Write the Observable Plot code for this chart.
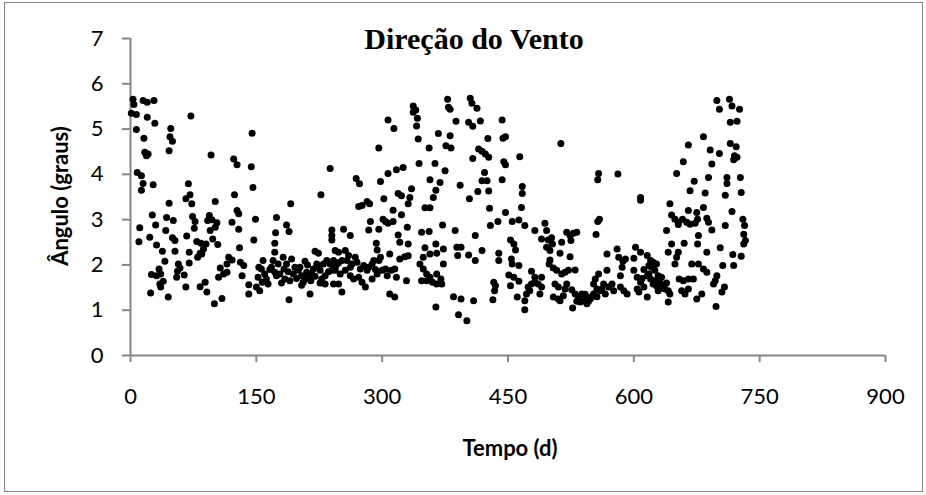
<!DOCTYPE html>
<html><head><meta charset="utf-8">
<script src="https://cdn.jsdelivr.net/npm/d3@7"></script>
<script src="https://cdn.jsdelivr.net/npm/@observablehq/plot@0.6"></script>
<style>
html,body{margin:0;padding:0;background:#fff;}
#wrap{position:relative;width:926px;height:495px;overflow:hidden;background:#fff;}
#frame{position:absolute;left:4px;top:2px;width:917px;height:488px;border:1px solid #868686;pointer-events:none;}
.t{position:absolute;white-space:nowrap;color:#000;}
#title{font-family:"Liberation Serif","Times New Roman",serif;font-weight:bold;font-size:30px;line-height:30px;left:274px;width:400px;text-align:center;top:24px;}
#xt{font-family:Lato,sans-serif;font-weight:bold;font-size:22px;line-height:22px;left:310px;width:400px;text-align:center;top:437px;}
#yt{font-family:Lato,sans-serif;font-weight:bold;font-size:22px;line-height:22px;left:-90px;width:300px;text-align:center;top:185px;transform:rotate(-90deg);transform-origin:150px 11px;}
#chart{position:absolute;left:0;top:0;}
</style>
</head><body>
<div id="wrap">
  <div id="chart"></div>
  <div id="frame"></div>
  <div class="t" id="title"></div>
  <div class="t" id="xt"></div>
  <div class="t" id="yt"></div>
</div>
<script>
const chartTitle = "Direção do Vento";
const xTitle = "Tempo (d)";
const yTitle = "Ângulo (graus)";
const xTicks = [0, 150, 300, 450, 600, 750, 900];
const yTicks = [0, 1, 2, 3, 4, 5, 6, 7];

const tempo1 = [3,4,1,7,15,20,28,20,29,72, 7,16,48,47,50,46,17,21,19,96, 8,13,15,13,27,69,71,66,73,101, 46,26,43,51,30,11,10,23,42,50, 53,31,38,67,70,53,74,77,76,94, 97,103,95,101,92,98,104,79,84,90, 87,83,80,85,41,34,36,31,25,39, 35,36,24,45,57,59,56,55,64,70, 66,83,89,91,100,109,107,105,111,115];
const angulo1 = [5.66,5.54,5.35,5.32,5.63,5.59,5.63,5.26,5.13,5.29, 4.99,4.80,5.01,4.83,4.73,4.52,4.49,4.45,4.41,4.43, 4.04,3.97,3.80,3.65,3.77,3.79,3.55,3.46,3.35,3.40, 3.36,3.10,3.05,2.98,2.88,2.82,2.51,2.61,2.76,2.60, 2.54,2.44,2.30,2.64,2.28,2.30,3.07,2.96,2.81,3.09, 3.00,2.93,2.76,2.83,2.98,2.57,2.45,2.52,2.48,2.46, 2.35,2.26,2.17,2.24,2.08,1.91,1.80,1.76,1.79,1.64, 1.58,1.51,1.38,1.29,2.02,1.93,1.86,1.73,1.78,2.04, 1.51,1.52,1.62,1.40,1.14,1.26,1.93,1.73,1.80,2.02];

const tempo2 = [145,123,127,144,146,124,127,129,121,129, 149,147,130,238,227,191,174,186,189,173, 172,240,240,220,224,117,121,115,131,135, 133,141,141,152,154,150,158,156,160,164, 162,172,170,168,172,176,174,182,186,183, 184,192,196,194,189,200,204,208,212,206, 216,210,208,214,218,222,226,228,232,234, 238,240,242,232,230, 153,157,166,178,180,188,198,202,211,215, 220,224,236,244,248,226,204,190];
const angulo2 = [4.91,4.34,4.21,4.17,3.71,3.55,3.20,3.13,2.94,2.79, 3.01,2.55,2.38,4.13,3.55,3.35,3.05,2.88,2.74,2.71, 2.48,2.77,2.55,2.30,2.26,2.17,2.11,1.84,2.06,1.99, 1.76,1.56,1.36,1.73,1.43,1.51,2.10,1.91,1.80,1.58, 1.69,2.28,2.10,1.95,1.84,2.02,1.76,2.17,2.02,1.91, 1.69,2.13,1.95,1.80,1.23,1.88,1.76,1.69,1.73,1.62, 1.80,1.84,2.08,1.36,1.91,2.02,1.88,1.69,1.58,2.10, 2.02,1.88,1.58,1.76,2.02, 1.95,1.62,1.90,1.80,1.60,1.85,1.70,1.95,2.00,1.65, 1.75,1.95,1.85,1.95,2.05,1.60,1.55,1.65];

const tempo3 = [337,340,337,342,307,314,341,343,367,296, 356,344,363,269,273,298,307,317,325,357, 319,323,335,333,331,364,361,302,282,285, 272,276,351,357,313,323,301,304,307,313, 286,284,296,330,347,356,319,321,331,293, 294,351,364,240,254,262,244,248,256,260, 268,242,246,252,258,264,270,274,278,282, 288,290,296,298,309,327,331,321,349,357, 365,244,250,256,262,266,272,276,280,288, 294,300,304,311,306,248,252,315,317,329, 309,315,345,349,353,357,360,347,353,365, 365,364, 284,292,262];
const angulo3 = [5.51,5.42,5.37,5.24,5.20,5.01,5.07,4.78,4.90,4.58, 4.58,4.24,4.24,3.91,3.79,3.84,4.02,4.10,4.15,3.88, 3.58,3.53,3.68,3.49,3.35,3.65,3.49,3.46,3.40,3.35, 3.29,3.31,3.26,3.26,3.21,3.11,3.01,2.96,2.92,2.96, 2.96,2.77,2.79,2.83,2.72,2.74,2.66,2.50,2.46,2.48, 2.33,2.38,2.46,2.65,2.79,2.65,2.32,2.28,2.32,2.21, 2.17,2.10,2.02,2.10,2.10,2.02,2.06,1.91,1.99,1.88, 2.02,2.10,2.10,2.17,2.24,2.18,2.20,2.13,2.17,2.24, 2.26,1.88,1.80,1.88,1.76,1.69,1.73,1.62,1.51,1.69, 1.80,1.88,1.91,1.88,1.76,1.58,1.40,1.91,1.73,1.65, 1.36,1.29,2.02,1.91,1.80,1.73,1.62,1.65,1.65,1.80, 1.58,1.07, 1.95,1.90,1.95];

const tempo4 = [378,379,381,405,407,413,388,403,408,417, 443,381,426,444,447,376,382,415,419,423, 427,408,445,447,464,375,422,419,425,443, 369,393,414,427,467,467,404,428,466,447, 372,387,411,429,438,455,463,470,482,490, 373,389,394,390,403,411,419,373,439,439, 453,457,459,454,455,463,451,457,478,482, 463,370,371,433,435,434,432,453,461,385, 394,409,391,401,474,478,482,486,490,472, 470,470,476];
const angulo4 = [5.66,5.48,5.44,5.68,5.57,5.46,5.17,5.15,5.06,5.18, 5.20,4.85,4.79,4.80,4.83,4.63,4.58,4.56,4.51,4.45, 4.38,4.35,4.28,4.21,4.39,4.08,4.04,3.86,3.86,3.88, 3.82,3.76,3.62,3.63,3.73,3.58,3.46,3.25,3.27,3.16, 2.88,2.76,2.65,2.87,2.96,2.96,2.99,2.87,2.76,2.57, 2.35,2.39,2.39,2.21,2.22,2.10,2.32,2.02,2.26,2.10, 2.55,2.46,2.33,2.13,2.02,1.99,1.78,1.73,1.86,1.73, 1.64,1.69,1.58,1.62,1.54,1.43,1.23,1.54,1.29,1.30, 1.25,1.21,0.90,0.77,1.51,1.58,1.62,1.58,1.51,1.36, 1.21,1.01,1.43];

const tempo5 = [513,558,557,581,608,608,559,557,555,494, 496,498,502,503,500,496,514,520,524,528, 532,525,512,524,500,499,504,508,514,518, 522,530,490,488,506,510,504,510,516,512, 518,520,526,530,534,538,544,548,552,527, 536,544,540,552,554,558,564,560,556,562, 566,568,570,574,576,584,584,588,592,568, 580,582,587,586,590,600,602,608,600,604, 608,604,612,616,616,618, 532,546,550,542,556,606,610,612];
const angulo5 = [4.68,4.02,3.88,4.01,3.49,3.43,3.01,2.96,2.67,2.92, 2.76,2.55,2.60,2.46,2.32,2.39,2.50,2.72,2.65,2.70, 2.72,2.54,2.26,2.18,2.11,2.02,1.93,1.88,1.80,1.84, 1.88,1.89,1.73,1.36,1.58,1.51,1.29,1.25,1.32,1.21, 1.47,1.58,1.45,1.36,1.29,1.36,1.29,1.25,1.36,1.05, 1.18,1.14,1.21,1.58,1.69,1.80,1.58,1.43,1.47,1.47, 1.36,1.88,1.51,1.58,1.43,1.51,1.76,1.43,1.36,2.24, 2.35,2.17,2.08,1.95,2.13,2.15,2.39,2.28,1.88,1.73, 1.62,1.47,1.51,1.29,1.76,1.99, 1.20,1.20,1.30,1.35,1.30,1.40,1.70,1.90];

const tempo6 = [699,702,714,717,726,715,723,683,665,715, 722,691,702,720,723,719,659,693,651,689, 711,727,672,711,667,685,709,728,643,683, 665,675,717,645,649,653,658,663,667,673, 676,687,689,653,639,693,709,730,732,731, 733,731,677,676,660,645,641,653,651,649, 687,703,718,728,706,719,669,677,683,687, 699,697,695,708,705,654,659,665,671,657, 661,665,641,675,681,698,616,620,623,627, 621,625,618,629,633,620,631,635,637,641, 623,629,643,627, 625,633,639];
const angulo6 = [5.63,5.44,5.66,5.51,5.44,5.15,5.17,4.83,4.65,4.68, 4.61,4.54,4.46,4.41,4.38,4.32,4.28,4.23,4.02,3.93, 3.93,3.93,3.85,3.80,3.64,3.59,3.54,3.60,3.35,3.27, 3.20,3.16,3.18,3.10,3.01,2.94,3.01,2.94,2.90,2.92, 3.01,3.03,2.94,2.89,2.76,2.77,2.87,3.01,2.87,2.68, 2.54,2.46,2.65,2.46,2.48,2.46,2.28,2.28,2.17,2.02, 2.28,2.38,2.23,2.19,1.99,1.99,2.02,2.02,1.91,1.84, 1.76,1.65,1.58,1.51,1.40,1.69,1.65,1.69,1.69,1.43, 1.36,1.47,1.18,1.25,1.36,1.08,2.21,2.10,2.06,2.02, 1.95,1.88,1.80,1.76,1.73,1.69,1.62,1.54,1.47,1.43, 1.58,1.43,1.36,1.54, 1.65,1.50,1.60];

const tempo = [].concat(tempo1, tempo2, tempo3, tempo4, tempo5, tempo6);
const angulo = [].concat(angulo1, angulo2, angulo3, angulo4, angulo5, angulo6);
const points = tempo.map((t, i) => ({t, a: angulo[i]}));

const axisGray = "#868686";

const chart = Plot.plot({
  width: 926,
  height: 495,
  marginLeft: 130,
  marginRight: 41,
  marginTop: 38,
  marginBottom: 140,
  style: {fontFamily: "Lato, sans-serif", fontSize: "22px", color: "#000", background: "transparent", overflow: "visible"},
  x: {domain: [xTicks[0], xTicks[xTicks.length - 1]]},
  y: {domain: [yTicks[0], yTicks[yTicks.length - 1]]},
  marks: [
    Plot.ruleX([xTicks[0]], {y1: yTicks[0], y2: yTicks[yTicks.length - 1], stroke: axisGray, strokeWidth: 2}),
    Plot.ruleY([yTicks[0]], {x1: xTicks[0], x2: xTicks[xTicks.length - 1], stroke: axisGray, strokeWidth: 2}),
    Plot.axisY({ticks: yTicks, tickSize: 8, tickPadding: 19, stroke: axisGray, strokeWidth: 2, fill: "#000", label: null, tickFormat: d => String(d)}),
    Plot.axisX({ticks: xTicks, tickSize: 7, tickPadding: 26, stroke: axisGray, strokeWidth: 2, fill: "#000", label: null, tickFormat: d => String(d)}),
    Plot.dot(points, {x: "t", y: "a", r: 3.5, fill: "#000", stroke: "none"})
  ]
});
document.getElementById("chart").appendChild(chart);
document.getElementById("title").textContent = chartTitle;
document.getElementById("xt").textContent = xTitle;
document.getElementById("yt").textContent = yTitle;
</script>
</body></html>
